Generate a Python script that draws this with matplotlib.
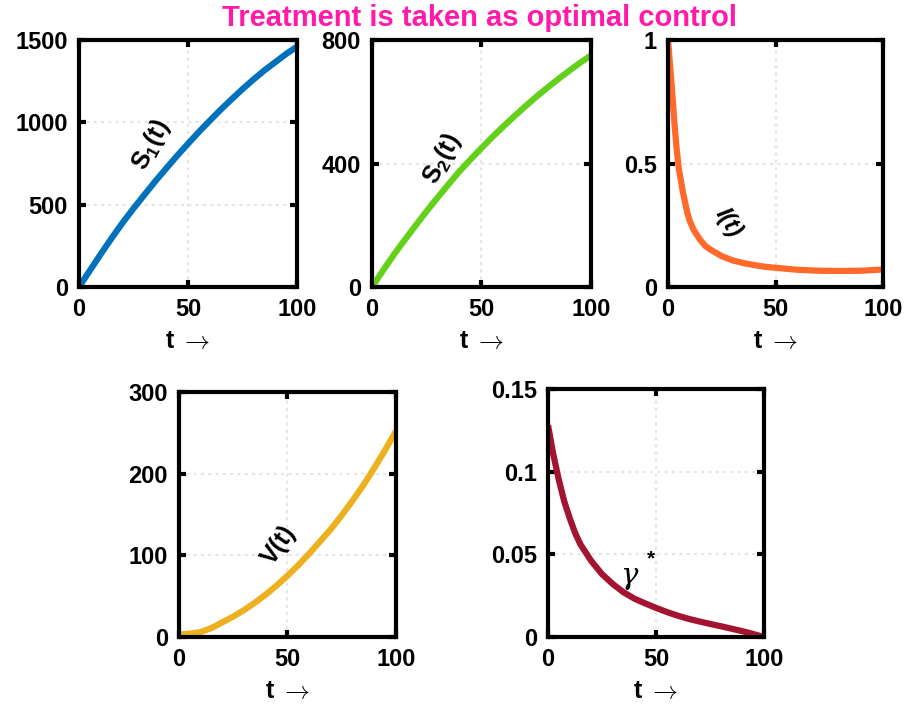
import matplotlib.pyplot as plt

plt.rcParams['font.family'] = ['Liberation Sans', 'DejaVu Sans']
plt.rcParams['font.weight'] = 'bold'
plt.rcParams['mathtext.fontset'] = 'custom'
plt.rcParams['mathtext.rm'] = 'Liberation Sans:bold'
plt.rcParams['mathtext.it'] = 'Liberation Sans:bold:italic'
plt.rcParams['mathtext.bf'] = 'Liberation Sans:bold'

# values
t = [0, 5, 10, 15, 20, 25, 30, 35, 40, 45, 50, 55, 60, 65, 70, 75, 80, 85, 90, 95, 100]
s1 = [0, 100, 200, 297, 390, 477, 560, 642, 720, 797, 870, 942, 1010, 1077, 1140,
      1202, 1260, 1315, 1365, 1415, 1460]
s2 = [0, 53, 105, 153, 200, 246, 290, 333, 375, 413, 450, 486, 520, 553, 585,
      616, 645, 673, 700, 726, 750]
v = [3, 4, 6, 11, 18, 25, 33, 42, 52, 63, 75, 88, 102, 117, 132, 149, 167, 186,
     207, 229, 252]

t_i = [0, 1, 2, 3, 4, 5, 6, 7, 8, 9, 10, 12, 15, 17.5, 20, 25, 30, 35, 40, 45,
       50, 60, 70, 80, 90, 100]
inf = [1.0, 0.89, 0.78, 0.66, 0.56, 0.48, 0.43, 0.38, 0.34, 0.30, 0.27, 0.23,
       0.19, 0.165, 0.15, 0.125, 0.108, 0.097, 0.089, 0.082, 0.078, 0.070, 0.066,
       0.065, 0.066, 0.071]

t_g = [0, 2.5, 5, 7.5, 10, 12.5, 15, 20, 25, 30, 35, 40, 45, 50, 55, 60, 65, 70,
       75, 80, 85, 90, 95, 100]
gamma = [0.128, 0.11, 0.095, 0.082, 0.072, 0.063, 0.056, 0.046, 0.038, 0.032,
         0.027, 0.0232, 0.0203, 0.0176, 0.0151, 0.0129, 0.011, 0.0094, 0.0079,
         0.0065, 0.005, 0.0035, 0.0018, 0.0]

fig = plt.figure(figsize=(9.16, 7.11), dpi=100)
title_col = '#FF1AA8'
fig.text(0.524, 0.974, 'Treatment is taken as optimal control', color=title_col,
         fontsize=21, fontweight='bold', ha='center', va='center')


def setup(rect, x, y, color, ylim, yticks, ygrid):
    ax = fig.add_axes(rect)
    ax.plot(x, y, color=color, lw=4.5, solid_capstyle='butt', solid_joinstyle='round')
    ax.set_xlim(0, 100)
    ax.set_ylim(*ylim)
    ax.set_xticks([0, 50, 100])
    ax.set_yticks(yticks)
    for g in ygrid:
        ax.axhline(g, color='#e6e6e6', lw=1.5, ls=(0, (1.5, 2)), zorder=0)
    ax.axvline(50, color='#e6e6e6', lw=1.5, ls=(0, (1.5, 2)), zorder=0)
    for s in ax.spines.values():
        s.set_linewidth(3)
    ax.tick_params(direction='in', length=5, width=3, top=True, right=True,
                   labelsize=17, pad=8)
    for lab in ax.get_xticklabels() + ax.get_yticklabels():
        lab.set_fontweight('bold')
    ax.set_xlabel('t $\\rightarrow$', fontsize=18, fontweight='bold', labelpad=6,
                  math_fontfamily='cm')
    return ax


ax1 = setup([0.0862, 0.5963, 0.238, 0.3474], t, s1, '#0072BD', (0, 1500),
            [0, 500, 1000, 1500], [500, 1000])
ax1.text(33, 865, 'S$_{\\mathit{1}}$(t)', rotation=62, fontsize=18, fontweight='bold',
         ha='center', va='center')

ax2 = setup([0.4061, 0.5963, 0.239, 0.3474], t, s2, '#63D11A', (0, 800),
            [0, 400, 800], [400])
ax2.text(32, 415, 'S$_{\\mathit{2}}$(t)', rotation=62, fontsize=18, fontweight='bold',
         ha='center', va='center')

ax3 = setup([0.7293, 0.5963, 0.2347, 0.3474], t_i, inf, '#FF6A2B', (0, 1),
            [0, 0.5, 1], [0.5])
ax3.set_yticklabels(['0', '0.5', '1'])
ax3.text(28, 0.26, 'I(t)', rotation=-58, fontsize=17, fontweight='bold',
         fontstyle='italic', ha='center', va='center')

ax4 = setup([0.1954, 0.1041, 0.2369, 0.3446], t, v, '#EDB120', (0, 300),
            [0, 100, 200, 300], [100, 200])
ax4.text(46, 112, 'V(t)', rotation=55, fontsize=18, fontweight='bold',
         ha='center', va='center')

ax5 = setup([0.5983, 0.1041, 0.2358, 0.3488], t_g, gamma, '#A2142F', (0, 0.15),
            [0, 0.05, 0.1, 0.15], [0.05, 0.1])
ax5.set_yticklabels(['0', '0.05', '0.1', '0.15'])
ax5.text(37.5, 0.037, '\u03b3', fontsize=21, ha='center', va='center',
         family='DejaVu Serif', fontstyle='italic', fontweight='normal')
ax5.text(47.5, 0.047, '*', fontsize=15, ha='center', va='center')

plt.savefig('out.png', dpi=100)
